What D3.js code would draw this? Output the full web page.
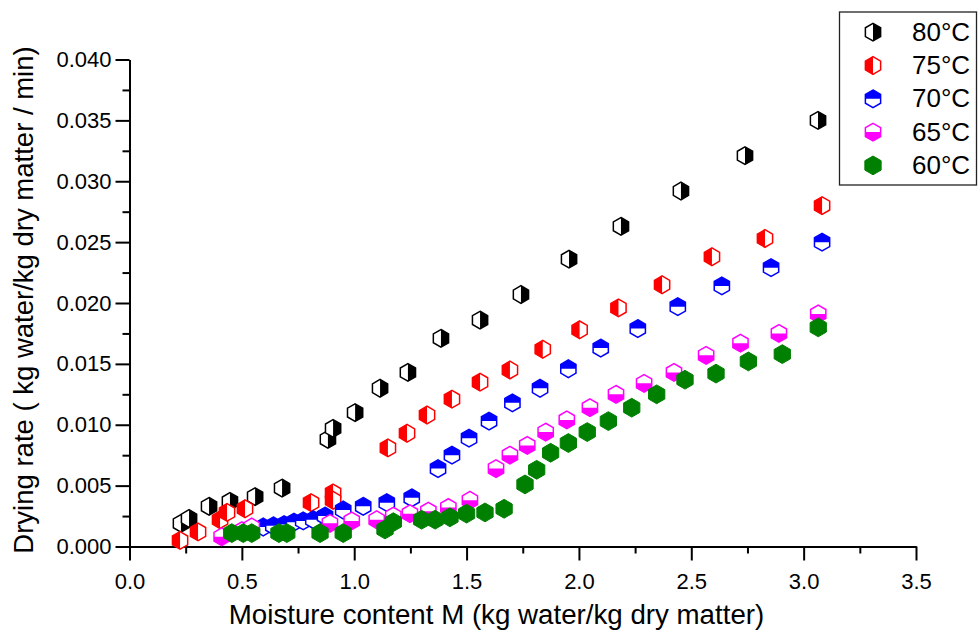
<!DOCTYPE html>
<html>
<head>
<meta charset="utf-8">
<script src="https://cdn.jsdelivr.net/npm/d3@7"></script>
<style>
  html, body { margin: 0; padding: 0; background: #fff; }
  svg { display: block; font-family: "Liberation Sans", Arial, sans-serif; }
</style>
</head>
<body>
<svg id="chart" width="978" height="630"></svg>
<script>
// ---- data ----
const seriesNames = ["80°C", "75°C", "70°C", "65°C", "60°C"];
const seriesColors = ["#000000", "#ff0000", "#0000ff", "#ff00ff", "#008000"];
const seriesFill = ["right", "left", "top", "bottom", "full"];

const x80 = [0.229, 0.265, 0.354, 0.447, 0.559, 0.679, 0.883, 0.906, 1.004, 1.115, 1.239, 1.386, 1.560, 1.742, 1.956, 2.187, 2.454, 2.739, 3.064];
const y80 = [0.0019, 0.0023, 0.0033, 0.0037, 0.0041, 0.0048, 0.0088, 0.0097, 0.0110, 0.0130, 0.0143, 0.0171, 0.0186, 0.0207, 0.0236, 0.0263, 0.0292, 0.0321, 0.0350];

const x75 = [0.225, 0.305, 0.403, 0.434, 0.514, 0.808, 0.906, 0.906, 1.150, 1.235, 1.324, 1.435, 1.560, 1.693, 1.839, 2.003, 2.176, 2.370, 2.592, 2.828, 3.082];
const y75 = [0.0005, 0.0012, 0.0022, 0.0028, 0.0031, 0.0036, 0.0044, 0.0038, 0.0081, 0.0093, 0.0108, 0.0121, 0.0135, 0.0145, 0.0162, 0.0178, 0.0196, 0.0215, 0.0238, 0.0253, 0.0280];

const x70 = [0.595, 0.640, 0.688, 0.732, 0.773, 0.818, 0.870, 0.951, 1.040, 1.145, 1.256, 1.373, 1.435, 1.511, 1.600, 1.704, 1.827, 1.953, 2.097, 2.262, 2.440, 2.636, 2.855, 3.082];
const y70 = [0.0016, 0.0017, 0.0018, 0.0020, 0.0021, 0.0022, 0.0025, 0.0030, 0.0033, 0.0036, 0.0040, 0.0064, 0.0075, 0.0089, 0.0103, 0.0118, 0.0130, 0.0146, 0.0163, 0.0179, 0.0197, 0.0214, 0.0229, 0.0250];

const x65 = [0.410, 0.500, 0.544, 0.892, 0.989, 1.100, 1.174, 1.248, 1.330, 1.419, 1.515, 1.631, 1.693, 1.770, 1.852, 1.946, 2.049, 2.165, 2.290, 2.423, 2.566, 2.719, 2.890, 3.065];
const y65 = [0.0008, 0.0013, 0.0016, 0.0019, 0.0021, 0.0022, 0.0025, 0.0027, 0.0029, 0.0032, 0.0038, 0.0064, 0.0075, 0.0083, 0.0094, 0.0104, 0.0114, 0.0125, 0.0134, 0.0143, 0.0157, 0.0167, 0.0175, 0.0191];

const x60 = [0.455, 0.506, 0.544, 0.665, 0.700, 0.848, 0.951, 1.137, 1.174, 1.300, 1.360, 1.426, 1.500, 1.582, 1.667, 1.760, 1.812, 1.874, 1.953, 2.037, 2.131, 2.235, 2.346, 2.472, 2.610, 2.754, 2.905, 3.065];
const y60 = [0.0011, 0.0011, 0.0011, 0.0011, 0.0011, 0.0011, 0.0011, 0.0014, 0.0020, 0.0022, 0.0022, 0.0024, 0.0027, 0.0028, 0.0031, 0.0051, 0.0063, 0.0077, 0.0085, 0.0094, 0.0103, 0.0114, 0.0125, 0.0137, 0.0142, 0.0152, 0.0158, 0.0180];

const seriesX = [x80, x75, x70, x65, x60];
const seriesY = [y80, y75, y70, y65, y60];

const xMajorTicks = [0.0, 0.5, 1.0, 1.5, 2.0, 2.5, 3.0, 3.5];
const xMinorTicks = [0.25, 0.75, 1.25, 1.75, 2.25, 2.75, 3.25];
const yMajorTicks = [0.000, 0.005, 0.010, 0.015, 0.020, 0.025, 0.030, 0.035, 0.040];
const yMinorTicks = [0.0025, 0.0075, 0.0125, 0.0175, 0.0225, 0.0275, 0.0325, 0.0375];

const xTitle = "Moisture content M (kg water/kg dry matter)";
const yTitle = "Drying rate ( kg water/kg dry matter / min)";

// ---- layout ----
const svg = d3.select("#chart");
const x = d3.scaleLinear().domain([0, 3.5]).range([129.5, 916]);
const y = d3.scaleLinear().domain([0, 0.04]).range([546.5, 59.5]);

function styleAxis(g) {
  g.selectAll("path.domain").attr("stroke", "#000").attr("stroke-width", 2);
  g.selectAll(".tick line").attr("stroke", "#000").attr("stroke-width", 2);
  g.selectAll(".tick text").attr("fill", "#000").attr("font-size", 22)
    .attr("font-family", "'Liberation Sans', Arial, sans-serif");
}

const gxMinor = svg.append("g").attr("transform", `translate(0,${y(0)})`)
  .call(d3.axisBottom(x).tickValues(xMinorTicks).tickSize(7).tickSizeOuter(0).tickFormat(""));
styleAxis(gxMinor);
const gx = svg.append("g").attr("transform", `translate(0,${y(0)})`)
  .call(d3.axisBottom(x).tickValues(xMajorTicks).tickSize(14).tickSizeOuter(0).tickPadding(13)
    .tickFormat(d3.format(".1f")));
styleAxis(gx);

const gyMinor = svg.append("g").attr("transform", `translate(${x(0)},0)`)
  .call(d3.axisLeft(y).tickValues(yMinorTicks).tickSize(7).tickSizeOuter(0).tickFormat(""));
styleAxis(gyMinor);
const gy = svg.append("g").attr("transform", `translate(${x(0)},0)`)
  .call(d3.axisLeft(y).tickValues(yMajorTicks).tickSize(14).tickSizeOuter(0).tickPadding(4)
    .tickFormat(d3.format(".3f")));
styleAxis(gy);

// axis titles
svg.append("text")
  .attr("x", 496.5).attr("y", 624)
  .attr("text-anchor", "middle")
  .attr("font-size", 27.7)
  .attr("fill", "#000")
  .text(xTitle);

svg.append("text")
  .attr("transform", "translate(33,300) rotate(-90)")
  .attr("text-anchor", "middle")
  .attr("font-size", 27.5)
  .attr("fill", "#000")
  .text(yTitle);

// ---- hexagon marker helpers ----
function hexPts(r) {
  const s = r * Math.sqrt(3) / 2;
  return { T: [0, -r], UR: [s, -r / 2], LR: [s, r / 2], B: [0, r], LL: [-s, r / 2], UL: [-s, -r / 2], ML: [-s, 0], MR: [s, 0] };
}
function poly(pts) {
  return "M" + pts.map(p => p[0].toFixed(2) + "," + p[1].toFixed(2)).join("L") + "Z";
}
function hexPath(r) {
  const p = hexPts(r);
  return poly([p.T, p.UR, p.LR, p.B, p.LL, p.UL]);
}
function halfPath(r, mode) {
  const p = hexPts(r);
  if (mode === "right") return poly([p.T, p.UR, p.LR, p.B]);
  if (mode === "left") return poly([p.T, p.B, p.LL, p.UL]);
  if (mode === "top") return poly([p.ML, p.UL, p.T, p.UR, p.MR]);
  if (mode === "bottom") return poly([p.ML, p.MR, p.LR, p.B, p.LL]);
  return hexPath(r);
}

function drawMarker(g, color, mode) {
  if (mode === "full") {
    g.append("path").attr("d", hexPath(9.4)).attr("fill", color)
      .attr("stroke", color).attr("stroke-width", 1);
  } else {
    const r = 8.8;
    g.append("path").attr("d", hexPath(r)).attr("fill", "#fff");
    g.append("path").attr("d", halfPath(r, mode)).attr("fill", color);
    g.append("path").attr("d", hexPath(r)).attr("fill", "none")
      .attr("stroke", color).attr("stroke-width", 1.5).attr("stroke-linejoin", "miter");
  }
}

// ---- points ----
seriesNames.forEach((name, i) => {
  const data = seriesX[i].map((xv, j) => ({ x: xv, y: seriesY[i][j] }));
  const g = svg.append("g").attr("class", "series");
  g.selectAll("g.pt").data(data).enter().append("g")
    .attr("class", "pt")
    .attr("transform", d => `translate(${x(d.x)},${y(d.y)})`)
    .each(function () { drawMarker(d3.select(this), seriesColors[i], seriesFill[i]); });
});

// ---- legend ----
const legend = svg.append("g");
legend.append("rect")
  .attr("x", 839.5).attr("y", 12).attr("width", 137).attr("height", 173)
  .attr("fill", "#fff").attr("stroke", "#222").attr("stroke-width", 1.3);
seriesNames.forEach((name, i) => {
  const cy = 32.2 + i * 33.3;
  const mg = legend.append("g").attr("transform", `translate(873,${cy})`);
  drawMarker(mg, seriesColors[i], seriesFill[i]);
  legend.append("text")
    .attr("x", 912).attr("y", cy + 8.5)
    .attr("font-size", 26).attr("fill", "#000")
    .text(name);
});
</script>
</body>
</html>
